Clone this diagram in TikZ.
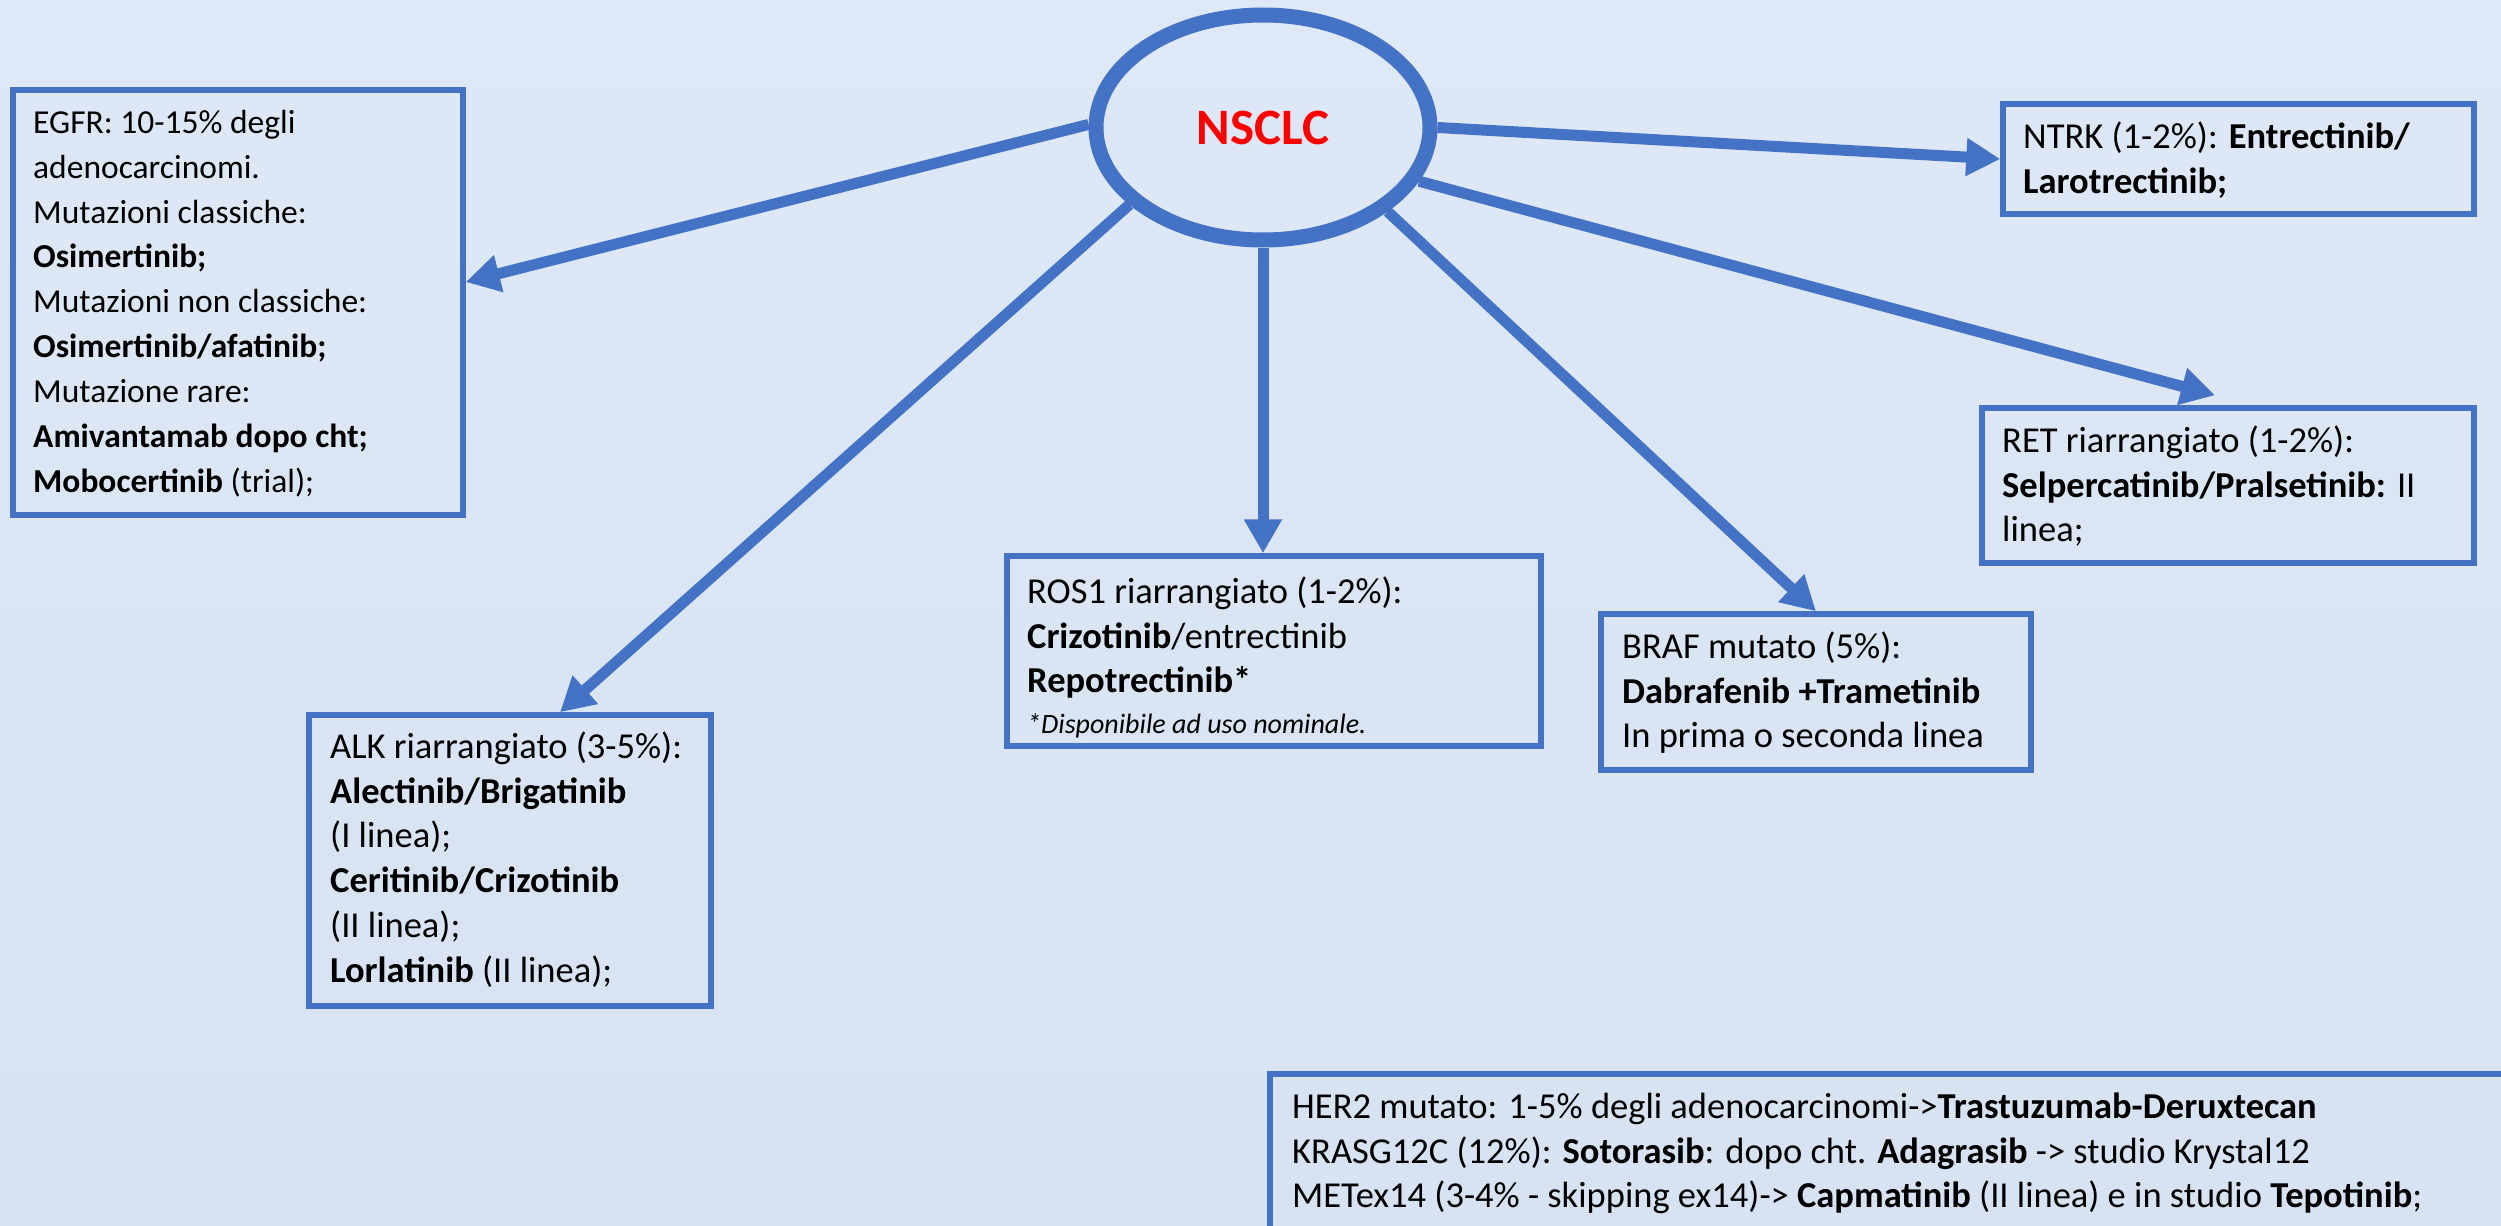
\documentclass[tikz,border=0pt]{standalone}
\usepackage{fontspec}
\setmainfont{Carlito}
\usetikzlibrary{arrows.meta,shapes.geometric}
\definecolor{bord}{HTML}{4472C4}
\definecolor{bgtop}{HTML}{DEE8F6}
\definecolor{bgbot}{HTML}{D7E2F2}
\newcommand\firstrule{\rule{0pt}{30pt}}
\begin{document}
\begin{tikzpicture}[x=1pt,y=-1pt,
  box/.style={draw=bord, line width=5.5pt, rectangle, inner sep=0pt},
  txt/.style={anchor=north west, inner sep=0pt, align=left, font=\fontsize{36.5}{44.8}\selectfont},
  arr/.style={draw=bord, line width=11pt, -{Triangle[length=34pt,width=36pt]}}]
\clip (0,0) rectangle (2501,1226);
\shade[top color=bgtop, bottom color=bgbot] (0,0) rectangle (2501,1226);

% central ellipse
\node[ellipse, draw=bord, line width=15pt, minimum width=334pt, minimum height=225pt,
      inner sep=0pt, text=red, font=\bfseries\fontsize{51}{60}\selectfont] (n) at (1263,127.5) {NSCLC};

% boxes
\node[box, minimum width=450pt, minimum height=425pt] (egfr) at (238,302.5) {};
\node[box, minimum width=471pt, minimum height=110pt] (ntrk) at (2238.5,159) {};
\node[box, minimum width=492pt, minimum height=155pt] (ret) at (2228,485.5) {};
\node[box, minimum width=534pt, minimum height=190pt] (ros) at (1274,651) {};
\node[box, minimum width=430pt, minimum height=156pt] (braf) at (1816,692) {};
\node[box, minimum width=402pt, minimum height=291pt] (alk) at (510,860.5) {};
\node[box, minimum width=1260pt, minimum height=166pt] (her) at (1900,1157) {};

% texts
\node[txt, font=\fontsize{33.5}{44.9}\selectfont] (egfrT) at (33,103) {\firstrule EGFR: 10-15\% degli\\
adenocarcinomi.\\
Mutazioni classiche:\\
\textbf{Osimertinib;}\\
Mutazioni non classiche:\\
\textbf{Osimertinib/afatinib;}\\
Mutazione rare:\\
\textbf{Amivantamab dopo cht;}\\
\textbf{Mobocertinib} (trial);};

\node[txt] (ntrkT) at (2023,118) {\firstrule NTRK (1-2\%): \textbf{Entrectinib/}\\
\textbf{Larotrectinib;}};

\node[txt] (retT) at (2002,422) {\firstrule RET riarrangiato (1-2\%):\\
\textbf{Selpercatinib/Pralsetinib:} II\\
linea;};

\node[txt] (rosT) at (1027,573) {\firstrule ROS1 riarrangiato (1-2\%):\\
\textbf{Crizotinib}/entrectinib\\
\textbf{Repotrectinib*}\\[-4pt]
{\fontsize{28}{34}\selectfont\itshape *Disponibile ad uso nominale.}};

\node[txt] (brafT) at (1622,628) {\firstrule BRAF mutato (5\%):\\
\textbf{Dabrafenib +Trametinib}\\
In prima o seconda linea};

\node[txt] (alkT) at (330,728) {\firstrule ALK riarrangiato (3-5\%):\\
\textbf{Alectinib/Brigatinib}\\
(I linea);\\
\textbf{Ceritinib/Crizotinib}\\
(II linea);\\
\textbf{Lorlatinib} (II linea);};

\node[txt] (herT) at (1292,1088) {\firstrule HER2 mutato: 1-5\% degli adenocarcinomi->\textbf{Trastuzumab-Deruxtecan}\\
KRASG12C (12\%): \textbf{Sotorasib}: dopo cht. \textbf{Adagrasib} -> studio Krystal12\\
METex14 (3-4\% - skipping ex14)-> \textbf{Capmatinib} (II linea) e in studio \textbf{Tepotinib};};

% connectors
\draw[arr] (n.179.5) -- ([yshift=20.5pt]egfr.east);
\draw[arr] (n.-0.5) -- (ntrk.west);
\draw[arr] (n.-19) -- ([xshift=-13pt,yshift=10pt]ret.north);
\draw[arr] (n.-34) -- (braf.north);
\draw[arr] (n.-90) -- ([xshift=-11pt]ros.north);
\draw[arr] (n.-150) -- ([xshift=50pt]alk.north);
\end{tikzpicture}
\end{document}
